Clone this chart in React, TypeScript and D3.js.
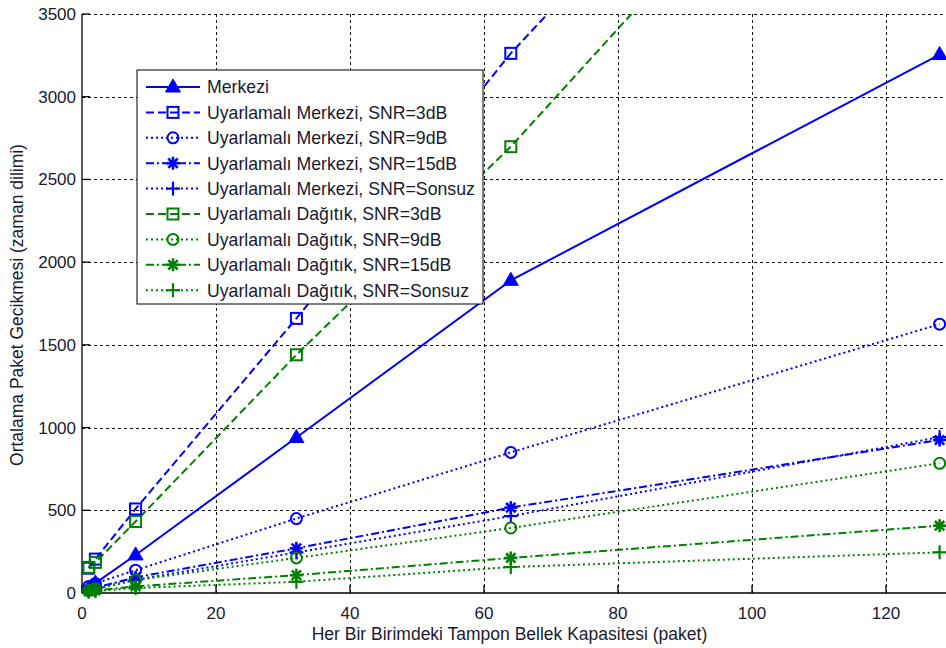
import React from "react";
import * as d3 from "d3";

const W = 946;
const H = 648;

const xValues = [1, 2, 8, 32, 64, 128];
const xTicks = [0, 20, 40, 60, 80, 100, 120];
const yTicks = [0, 500, 1000, 1500, 2000, 2500, 3000, 3500];

const merkezi = [30, 60, 230, 940, 1890, 3255];
const umSnr3 = [150, 205, 508, 1660, 3262, 6050];
const umSnr9 = [40, 58, 138, 450, 850, 1625];
const umSnr15 = [20, 32, 95, 270, 516, 925];
const umSonsuz = [15, 26, 80, 245, 465, 942];
const udSnr3 = [155, 185, 432, 1440, 2698, 5550];
const udSnr9 = [15, 25, 78, 212, 393, 784];
const udSnr15 = [10, 15, 40, 108, 212, 407];
const udSonsuz = [8, 12, 30, 68, 157, 246];

const seriesNames = [
  "Merkezi",
  "Uyarlamalı Merkezi, SNR=3dB",
  "Uyarlamalı Merkezi, SNR=9dB",
  "Uyarlamalı Merkezi, SNR=15dB",
  "Uyarlamalı Merkezi, SNR=Sonsuz",
  "Uyarlamalı Dağıtık, SNR=3dB",
  "Uyarlamalı Dağıtık, SNR=9dB",
  "Uyarlamalı Dağıtık, SNR=15dB",
  "Uyarlamalı Dağıtık, SNR=Sonsuz",
];
const seriesValues = [merkezi, umSnr3, umSnr9, umSnr15, umSonsuz, udSnr3, udSnr9, udSnr15, udSonsuz];
const seriesColors = ["#0000ff", "#0000ff", "#0000ff", "#0000ff", "#0000ff", "#008000", "#008000", "#008000", "#008000"];
const seriesDash = ["none", "8,4", "2,3", "8,3,2,3", "2,3", "8,4", "2,3", "8,3,2,3", "2,3"];
const seriesMarker = ["triangle", "square", "circle", "star", "plus", "square", "circle", "star", "plus"];

const FONT = "'Liberation Sans', Arial, sans-serif";
const textColor = "#1a1a2e";

const plotLeft = 82;
const plotTop = 14;
const plotBottom = 593;
const pxPerUnit = 6.7;

const x = d3.scaleLinear().domain([0, 128]).range([plotLeft, plotLeft + 128 * pxPerUnit]);
const y = d3.scaleLinear().domain([0, 3500]).range([plotBottom, plotTop]);

function Marker({ type, cx, cy, color }: { type: string; cx: number; cy: number; color: string }) {
  const sw = 2;
  if (type === "triangle") {
    return <path d={`M${cx},${cy - 8} L${cx + 7.5},${cy + 5} L${cx - 7.5},${cy + 5} Z`} fill={color} stroke={color} strokeWidth={1} />;
  }
  if (type === "square") {
    return <rect x={cx - 5.5} y={cy - 5.5} width={11} height={11} fill="none" stroke={color} strokeWidth={sw} />;
  }
  if (type === "circle") {
    return <circle cx={cx} cy={cy} r={5.5} fill="none" stroke={color} strokeWidth={sw} />;
  }
  if (type === "star") {
    const r = 6.5;
    const d = r * 0.72;
    return (
      <g stroke={color} strokeWidth={2.6}>
        <line x1={cx - r} y1={cy} x2={cx + r} y2={cy} />
        <line x1={cx} y1={cy - r} x2={cx} y2={cy + r} />
        <line x1={cx - d} y1={cy - d} x2={cx + d} y2={cy + d} />
        <line x1={cx - d} y1={cy + d} x2={cx + d} y2={cy - d} />
      </g>
    );
  }
  const r = 7;
  return (
    <g stroke={color} strokeWidth={2.2}>
      <line x1={cx - r} y1={cy} x2={cx + r} y2={cy} />
      <line x1={cx} y1={cy - r} x2={cx} y2={cy + r} />
    </g>
  );
}

export default function App() {
  const line = d3
    .line<number>()
    .x((_, i) => x(xValues[i]))
    .y((d) => y(d));

  const legendX = 137;
  const legendY = 70;
  const legendW = 346;
  const legendH = 234;
  const rowStart = 87;
  const rowStep = 25.4;

  return (
    <svg width={W} height={H} style={{ position: "absolute", left: 0, top: 0, background: "#fff" }} fontFamily={FONT}>
      <defs>
        <clipPath id="plotClip">
          <rect x={plotLeft} y={plotTop} width={W - plotLeft} height={H - plotTop} />
        </clipPath>
      </defs>
      <rect x={0} y={0} width={W} height={H} fill="#fff" />

      <g stroke="#111" strokeWidth={1} strokeDasharray="3,3" shapeRendering="crispEdges">
        {xTicks.filter((t) => t > 0).map((t) => (
          <line key={"gx" + t} x1={Math.round(x(t)) + 0.5} x2={Math.round(x(t)) + 0.5} y1={plotTop} y2={plotBottom} />
        ))}
        {yTicks.filter((t) => t > 0).map((t) => (
          <line key={"gy" + t} x1={plotLeft} x2={W} y1={Math.round(y(t)) + 0.5} y2={Math.round(y(t)) + 0.5} />
        ))}
      </g>

      <g stroke="#000" strokeWidth={1.3}>
        <line x1={plotLeft} x2={plotLeft} y1={plotTop} y2={plotBottom} />
        <line x1={plotLeft} x2={W} y1={plotBottom} y2={plotBottom} />
        {xTicks.map((t) => (
          <line key={"tx" + t} x1={x(t)} x2={x(t)} y1={plotBottom} y2={plotBottom - 8} />
        ))}
        {yTicks.map((t) => (
          <line key={"ty" + t} x1={plotLeft} x2={plotLeft + 8} y1={y(t)} y2={y(t)} />
        ))}
      </g>

      <g clipPath="url(#plotClip)" fill="none">
        {seriesValues.map((vals, i) => (
          <path
            key={"l" + i}
            d={line(vals) || ""}
            stroke={seriesColors[i]}
            strokeWidth={2}
            strokeDasharray={seriesDash[i] === "none" ? undefined : seriesDash[i]}
          />
        ))}
      </g>

      <g>
        {seriesValues.map((vals, i) =>
          vals.map((v, j) =>
            v <= 3500 ? (
              <Marker key={"m" + i + "-" + j} type={seriesMarker[i]} cx={x(xValues[j])} cy={y(v)} color={seriesColors[i]} />
            ) : null
          )
        )}
      </g>

      <g fontSize={17} fill={textColor}>
        {yTicks.map((t) => (
          <text key={"yl" + t} x={plotLeft - 6} y={y(t)} dy="0.35em" textAnchor="end">
            {t}
          </text>
        ))}
        {xTicks.map((t) => (
          <text key={"xl" + t} x={x(t)} y={619} textAnchor="middle">
            {t}
          </text>
        ))}
      </g>

      <text x={(307 + 712) / 2} y={640} fontSize={17.5} textAnchor="middle" fill={textColor}>
        Her Bir Birimdeki Tampon Bellek Kapasitesi (paket)
      </text>
      <text transform={`translate(23, 305) rotate(-90)`} fontSize={17.5} textAnchor="middle" fill={textColor}>
        Ortalama Paket Gecikmesi (zaman dilimi)
      </text>

      <g>
        <rect x={legendX} y={legendY} width={legendW} height={legendH} fill="#fff" stroke="#000" strokeWidth={1} />
        {seriesNames.map((name, i) => {
          const cy = rowStart + i * rowStep;
          return (
            <g key={"lg" + i}>
              <line
                x1={146}
                x2={200}
                y1={cy}
                y2={cy}
                stroke={seriesColors[i]}
                strokeWidth={2}
                strokeDasharray={seriesDash[i] === "none" ? undefined : seriesDash[i]}
              />
              <Marker type={seriesMarker[i]} cx={173} cy={cy} color={seriesColors[i]} />
              <text x={207} y={cy} dy="0.36em" fontSize={17.7} fill={textColor}>
                {name}
              </text>
            </g>
          );
        })}
      </g>
    </svg>
  );
}
